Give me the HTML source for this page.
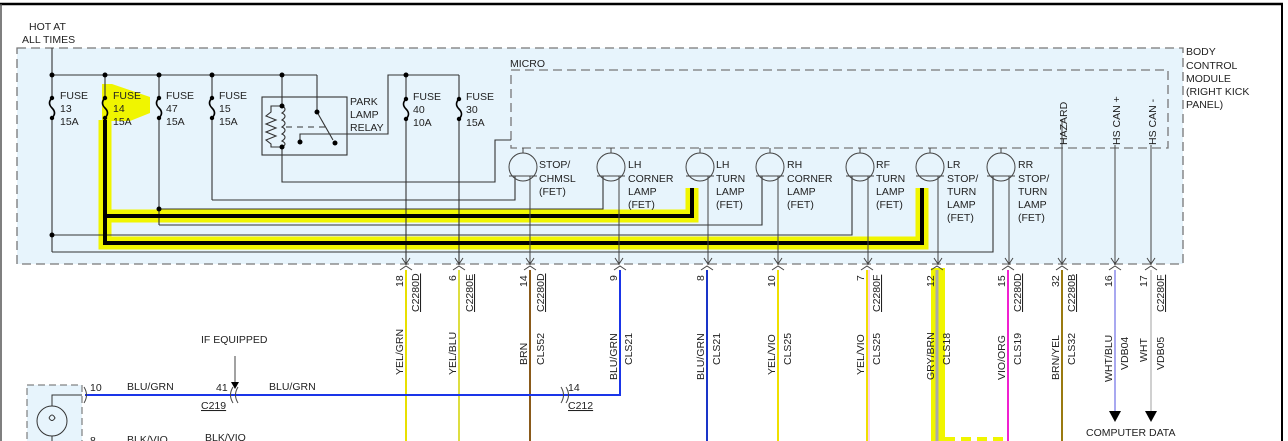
<!DOCTYPE html>
<html><head><meta charset="utf-8"><style>
html,body{margin:0;padding:0;background:#fff}
svg{display:block}
text{font-family:"Liberation Sans",sans-serif;font-size:10.5px;fill:#222}
</style></head><body>
<svg width="1288" height="441" viewBox="0 0 1288 441" xmlns="http://www.w3.org/2000/svg">
<line x1="0" y1="4" x2="1283" y2="4" stroke="#000" stroke-width="2.5"/>
<line x1="1" y1="4" x2="1" y2="441" stroke="#555" stroke-width="1.5"/>
<line x1="1282" y1="4" x2="1282" y2="441" stroke="#000" stroke-width="2"/>

<rect x="17" y="48" width="1166" height="216" fill="#e7f4fc" stroke="#777" stroke-width="1.3" stroke-dasharray="9,5"/>
<rect x="511" y="70" width="657" height="78" fill="none" stroke="#777" stroke-width="1.3" stroke-dasharray="9,5"/>
<text x="510" y="67">MICRO</text>
<text x="1186" y="55">BODY</text>
<text x="1186" y="69">CONTROL</text>
<text x="1186" y="82">MODULE</text>
<text x="1186" y="95">(RIGHT KICK</text>
<text x="1186" y="108">PANEL)</text>
<text x="29" y="30">HOT AT</text>
<text x="22" y="43">ALL TIMES</text>

<polygon points="102,84 112,84 150,97 150,113 130,121 102,121" fill="#f0f500"/>
<g fill="none" stroke="#f0f500" stroke-width="13">
<polyline points="105,120 105,216 692,216 692,188"/>
<polyline points="105,216 105,243 922,243 922,188"/>
</g>

<g stroke="#333" stroke-width="1.1" fill="none">
<line x1="52" y1="48" x2="52" y2="75"/>
<line x1="52" y1="75" x2="317" y2="75"/>
<line x1="317" y1="75" x2="317" y2="112"/>
<line x1="282" y1="75" x2="282" y2="106"/>
<line x1="52" y1="75" x2="52" y2="98"/><line x1="52" y1="118" x2="52" y2="252"/>
<line x1="159" y1="75" x2="159" y2="98"/><line x1="159" y1="118" x2="159" y2="225"/>
<line x1="212" y1="75" x2="212" y2="98"/><line x1="212" y1="118" x2="212" y2="200"/>
<line x1="105" y1="75" x2="105" y2="98"/>
<polyline points="300,142 300,134 388,134 388,75 459,75"/>
<line x1="406" y1="75" x2="406" y2="99"/><line x1="406" y1="119" x2="406" y2="265"/>
<line x1="459" y1="75" x2="459" y2="99"/><line x1="459" y1="119" x2="459" y2="265"/>
<rect x="262" y="97" width="85" height="58"/>
<polyline points="282,147 282,182 495,182 495,140 511,140"/>
<polyline points="212,200 515,200 515,176"/>
<polyline points="159,209 603,209 603,176"/>
<polyline points="159,225 762,225 762,176"/>
<polyline points="52,235 852,235 852,176"/>
<polyline points="52,252 993,252 993,176"/>
<polyline points="282,106 271,106 271,112 266,116 276,120 266,124 276,128 266,132 276,136 266,140 271,144 271,147 282,147"/>
<path d="M282,106 q6,3 0,7 q6,3 0,7 q6,3 0,7 q6,3 0,7 q6,3 0,7 q6,3 0,6"/>
<line x1="286" y1="127" x2="330" y2="127" stroke-dasharray="6,5"/>
<line x1="317" y1="112" x2="333" y2="140"/>
</g>
<g fill="#000">
<circle cx="52" cy="75" r="2.5"/><circle cx="105" cy="75" r="2.5"/><circle cx="159" cy="75" r="2.5"/><circle cx="212" cy="75" r="2.5"/><circle cx="282" cy="75" r="2.5"/>
<circle cx="406" cy="75" r="2.5"/><circle cx="159" cy="209" r="2.5"/><circle cx="52" cy="235" r="2.5"/>
<circle cx="282" cy="106" r="2.5"/><circle cx="282" cy="147" r="2.5"/><circle cx="317" cy="112" r="2.5"/><circle cx="335" cy="143" r="2.5"/><circle cx="300" cy="142" r="2.5"/>
</g>
<g stroke="#000" stroke-width="1.6" fill="none">
<path d="M52,98 q-5,5 0,10 q5,5 0,10"/><path d="M105,98 q-5,5 0,10 q5,5 0,10"/><path d="M159,98 q-5,5 0,10 q5,5 0,10"/><path d="M212,98 q-5,5 0,10 q5,5 0,10"/>
<path d="M406,99 q-5,5 0,10 q5,5 0,10"/><path d="M459,99 q-5,5 0,10 q5,5 0,10"/>
</g>
<g fill="#000"><circle cx="52" cy="98" r="2.2"/><circle cx="52" cy="118" r="2.2"/><circle cx="105" cy="98" r="2.2"/><circle cx="105" cy="118" r="2.2"/><circle cx="159" cy="98" r="2.2"/><circle cx="159" cy="118" r="2.2"/><circle cx="212" cy="98" r="2.2"/><circle cx="212" cy="118" r="2.2"/><circle cx="406" cy="99" r="2.2"/><circle cx="406" cy="119" r="2.2"/><circle cx="459" cy="99" r="2.2"/><circle cx="459" cy="119" r="2.2"/></g>
<text x="60" y="99">FUSE</text><text x="60" y="112">13</text><text x="60" y="125">15A</text>
<text x="113" y="99">FUSE</text><text x="113" y="112">14</text><text x="113" y="125">15A</text>
<text x="166" y="99">FUSE</text><text x="166" y="112">47</text><text x="166" y="125">15A</text>
<text x="219" y="99">FUSE</text><text x="219" y="112">15</text><text x="219" y="125">15A</text>
<text x="413" y="100">FUSE</text><text x="413" y="113">40</text><text x="413" y="126">10A</text>
<text x="466" y="100">FUSE</text><text x="466" y="113">30</text><text x="466" y="126">15A</text>
<text x="350" y="105">PARK</text><text x="350" y="118">LAMP</text><text x="350" y="131">RELAY</text>

<g fill="none" stroke="#000" stroke-width="4">
<polyline points="105,120 105,216 692,216 692,188"/>
<polyline points="105,216 105,243 922,243 922,188"/>
</g>

<g stroke="#444" stroke-width="1" fill="none">
<circle cx="523" cy="167" r="14"/><line x1="523" y1="148" x2="523" y2="153"/><line x1="509" y1="176" x2="537" y2="176"/><line x1="530" y1="176" x2="530" y2="265"/>
<circle cx="611" cy="167" r="14"/><line x1="611" y1="148" x2="611" y2="153"/><line x1="597" y1="176" x2="625" y2="176"/><line x1="619" y1="176" x2="619" y2="265"/>
<circle cx="700" cy="167" r="14"/><line x1="700" y1="148" x2="700" y2="153"/><line x1="686" y1="176" x2="714" y2="176"/><line x1="708" y1="176" x2="708" y2="265"/>
<circle cx="770" cy="167" r="14"/><line x1="770" y1="148" x2="770" y2="153"/><line x1="756" y1="176" x2="784" y2="176"/><line x1="778" y1="176" x2="778" y2="265"/>
<circle cx="860" cy="167" r="14"/><line x1="860" y1="148" x2="860" y2="153"/><line x1="846" y1="176" x2="874" y2="176"/><line x1="868" y1="176" x2="868" y2="265"/>
<circle cx="930" cy="167" r="14"/><line x1="930" y1="148" x2="930" y2="153"/><line x1="916" y1="176" x2="944" y2="176"/><line x1="938" y1="176" x2="938" y2="265"/>
<circle cx="1001" cy="167" r="14"/><line x1="1001" y1="148" x2="1001" y2="153"/><line x1="987" y1="176" x2="1015" y2="176"/><line x1="1009" y1="176" x2="1009" y2="265"/>
<line x1="1062" y1="120" x2="1062" y2="265"/><line x1="1115" y1="145" x2="1115" y2="265"/><line x1="1151" y1="145" x2="1151" y2="265"/>
<!-- arrowheads into pins -->
<path d="M402,258 l4,6 l4,-6"/><path d="M455,258 l4,6 l4,-6"/><path d="M526,258 l4,6 l4,-6"/><path d="M615,258 l4,6 l4,-6"/><path d="M704,258 l4,6 l4,-6"/><path d="M774,258 l4,6 l4,-6"/><path d="M864,258 l4,6 l4,-6"/><path d="M934,258 l4,6 l4,-6"/><path d="M1005,258 l4,6 l4,-6"/><path d="M1058,258 l4,6 l4,-6"/><path d="M1111,258 l4,6 l4,-6"/><path d="M1147,258 l4,6 l4,-6"/>
</g>
<text x="539" y="168">STOP/</text><text x="539" y="182">CHMSL</text><text x="539" y="195">(FET)</text>
<text x="628" y="168">LH</text><text x="628" y="182">CORNER</text><text x="628" y="195">LAMP</text><text x="628" y="208">(FET)</text>
<text x="716" y="168">LH</text><text x="716" y="182">TURN</text><text x="716" y="195">LAMP</text><text x="716" y="208">(FET)</text>
<text x="787" y="168">RH</text><text x="787" y="182">CORNER</text><text x="787" y="195">LAMP</text><text x="787" y="208">(FET)</text>
<text x="876" y="168">RF</text><text x="876" y="182">TURN</text><text x="876" y="195">LAMP</text><text x="876" y="208">(FET)</text>
<text x="947" y="168">LR</text><text x="947" y="182">STOP/</text><text x="947" y="195">TURN</text><text x="947" y="208">LAMP</text><text x="947" y="221">(FET)</text>
<text x="1018" y="168">RR</text><text x="1018" y="182">STOP/</text><text x="1018" y="195">TURN</text><text x="1018" y="208">LAMP</text><text x="1018" y="221">(FET)</text>
<text transform="translate(1067,145) rotate(-90)">HAZARD</text>
<text transform="translate(1120,145) rotate(-90)">HS CAN +</text>
<text transform="translate(1156,145) rotate(-90)">HS CAN -</text>

<rect x="931" y="268" width="14" height="173" fill="#f0f500"/>
<line x1="945" y1="439" x2="1005" y2="439" stroke="#f0f500" stroke-width="4" stroke-dasharray="10,6"/>
<g fill="none" stroke-width="2">
<line x1="406" y1="270" x2="406" y2="441" stroke="#e8e000"/>
<line x1="459" y1="270" x2="459" y2="441" stroke="#dede40"/>
<line x1="530" y1="270" x2="530" y2="441" stroke="#8a5a1a"/>
<polyline points="620,270 620,395 85,395" stroke="#1a35e8"/>
<line x1="707" y1="270" x2="707" y2="441" stroke="#1a35c8"/>
<line x1="778" y1="270" x2="778" y2="441" stroke="#f0e000"/>
<line x1="867" y1="270" x2="867" y2="441" stroke="#f0e000"/><line x1="869" y1="270" x2="869" y2="441" stroke="#f8a0d8" stroke-width="1"/>
<line x1="937" y1="270" x2="937" y2="441" stroke="#aaa" stroke-width="3"/>
<line x1="1008" y1="270" x2="1008" y2="441" stroke="#f020d0"/>
<line x1="1062" y1="270" x2="1062" y2="441" stroke="#9a7a10"/>
<line x1="1115" y1="270" x2="1115" y2="412" stroke="#a8a8f0"/>
<line x1="1151" y1="270" x2="1151" y2="412" stroke="#d0d0d0"/>
</g>
<polygon points="1109,411 1121,411 1115,422" fill="#000"/>
<polygon points="1145,411 1157,411 1151,422" fill="#000"/>
<text x="1086" y="436">COMPUTER DATA</text>
<g stroke="#444" stroke-width="1" fill="none">
<path d="M400,270 l6,-4 l6,4"/><path d="M453,270 l6,-4 l6,4"/><path d="M524,270 l6,-4 l6,4"/><path d="M614,270 l6,-4 l6,4"/><path d="M701,270 l6,-4 l6,4"/><path d="M772,270 l6,-4 l6,4"/><path d="M861,270 l6,-4 l6,4"/><path d="M931,270 l6,-4 l6,4"/><path d="M1002,270 l6,-4 l6,4"/><path d="M1056,270 l6,-4 l6,4"/><path d="M1109,270 l6,-4 l6,4"/><path d="M1145,270 l6,-4 l6,4"/>
<path d="M84,387 q5,8 0,16"/><path d="M233,387 q-5,8 0,16"/><path d="M238,387 q-5,8 0,16"/><path d="M561,387 q5,8 0,16"/><path d="M566,387 q5,8 0,16"/>
<line x1="235" y1="356" x2="235" y2="384"/>
</g>
<polygon points="231,382 239,382 235,389" fill="#000"/>
<g>
<text transform="translate(403,287) rotate(-90)">18</text><text transform="translate(419,312) rotate(-90)" text-decoration="underline">C2280D</text>
<text transform="translate(456,281) rotate(-90)">6</text><text transform="translate(473,312) rotate(-90)" text-decoration="underline">C2280E</text>
<text transform="translate(527,287) rotate(-90)">14</text><text transform="translate(544,312) rotate(-90)" text-decoration="underline">C2280D</text>
<text transform="translate(617,281) rotate(-90)">9</text>
<text transform="translate(704,281) rotate(-90)">8</text>
<text transform="translate(775,287) rotate(-90)">10</text>
<text transform="translate(864,281) rotate(-90)">7</text><text transform="translate(880,312) rotate(-90)" text-decoration="underline">C2280F</text>
<text transform="translate(934,287) rotate(-90)">12</text>
<text transform="translate(1005,287) rotate(-90)">15</text><text transform="translate(1021,312) rotate(-90)" text-decoration="underline">C2280D</text>
<text transform="translate(1059,287) rotate(-90)">32</text><text transform="translate(1075,312) rotate(-90)" text-decoration="underline">C2280B</text>
<text transform="translate(1112,287) rotate(-90)">16</text>
<text transform="translate(1147,287) rotate(-90)">17</text><text transform="translate(1164,312) rotate(-90)" text-decoration="underline">C2280F</text>

<text transform="translate(403,375) rotate(-90)">YEL/GRN</text>
<text transform="translate(456,375) rotate(-90)">YEL/BLU</text>
<text transform="translate(527,365) rotate(-90)">BRN</text><text transform="translate(544,365) rotate(-90)">CLS52</text>
<text transform="translate(617,380) rotate(-90)">BLU/GRN</text><text transform="translate(632,365) rotate(-90)">CLS21</text>
<text transform="translate(704,380) rotate(-90)">BLU/GRN</text><text transform="translate(720,365) rotate(-90)">CLS21</text>
<text transform="translate(775,375) rotate(-90)">YEL/VIO</text><text transform="translate(791,365) rotate(-90)">CLS25</text>
<text transform="translate(864,375) rotate(-90)">YEL/VIO</text><text transform="translate(880,365) rotate(-90)">CLS25</text>
<text transform="translate(934,380) rotate(-90)">GRY/BRN</text><text transform="translate(950,365) rotate(-90)">CLS18</text>
<text transform="translate(1005,380) rotate(-90)">VIO/ORG</text><text transform="translate(1021,365) rotate(-90)">CLS19</text>
<text transform="translate(1059,380) rotate(-90)">BRN/YEL</text><text transform="translate(1075,365) rotate(-90)">CLS32</text>
<text transform="translate(1112,382) rotate(-90)">WHT/BLU</text><text transform="translate(1128,370) rotate(-90)">VDB04</text>
<text transform="translate(1147,362) rotate(-90)">WHT</text><text transform="translate(1164,370) rotate(-90)">VDB05</text>
</g>
<text x="201" y="343">IF EQUIPPED</text>
<text x="90" y="391">10</text><text x="127" y="390">BLU/GRN</text>
<text x="216" y="391">41</text><text x="269" y="390">BLU/GRN</text>
<text x="201" y="409" text-decoration="underline">C219</text>
<text x="568" y="391">14</text><text x="568" y="409" text-decoration="underline">C212</text>
<text x="90" y="444">8</text><text x="127" y="443">BLK/VIO</text><text x="205" y="441">BLK/VIO</text>
<rect x="27" y="385" width="55" height="60" fill="#e7f4fc" stroke="#666" stroke-dasharray="7,4"/>
<g stroke="#333" fill="none" stroke-width="1">
<circle cx="52" cy="421" r="15"/>
<polyline points="52,406 52,395 82,395"/>
<path d="M49,418 q3,-6 6,0 q-3,5 -6,0"/>
<line x1="52" y1="436" x2="52" y2="441"/>
</g>
</svg>
</body></html>
